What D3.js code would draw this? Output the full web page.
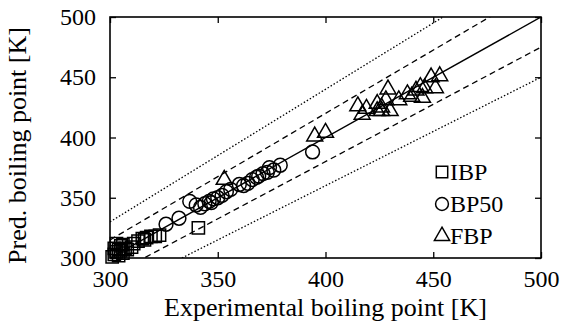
<!DOCTYPE html>
<meta charset="utf-8">
<style>
  body { margin: 0; background: #fff; }
  text { font-family: "Liberation Serif", "Times New Roman", serif; fill: #000; }
</style>
<body>
<script src="https://d3js.org/d3.v7.min.js"></script>
<script>
  // experimental vs predicted boiling point [K]
  var ibp = [[301,301],[302,303],[303,305],[304,302],[305,306],[306,304],[307,308],[305,310],
    [304,307],[302,308],[306,311],[308,307],[310,309],[311,312],[313,314],[315,316],[316,315],
    [317,317],[319,318],[321,318],[323,319],[341,325],[303,312]];
  var bp50 = [[326,328],[332,333],[337,347],[340,344],[342,342],[344,345],[346,347],[348,349],
    [350,350],[352,352],[354,355],[356,357],[360,361],[362,360],[364,362],[366,365],[368,367],
    [369,368],[371,370],[373,371],[374,375],[376,373],[379,377],[394,388],[347,346]];
  var fbp = [[353,365],[395,401],[400,404],[415,426],[417,419],[419,424],[424,428],[426,425],
    [429,440],[428,431],[426,422],[430,422],[424,422],[434,431],[438,436],[440,434],[442,439],
    [444,442],[445,433],[446,441],[449,450],[453,451],[451,441]];
  var ticks = [300, 350, 400, 450, 500];
  var legendNames = ["IBP", "BP50", "FBP"];
  // deviation bands: parity, +-5 %, +-10 %
  var bands = [[1, "none"], [1.05, "6,4"], [0.95, "6,4"], [1.1, "1.5,2"], [0.9, "1.5,2"]];

  var W = 562, H = 321;
  var margin = {top: 17, right: 21, bottom: 63, left: 110};
  var width = W - margin.left - margin.right,
      height = H - margin.top - margin.bottom;

  var x = d3.scaleLinear().domain([300, 500]).range([0, width]);
  var y = d3.scaleLinear().domain([300, 500]).range([height, 0]);

  var svg = d3.select("body").append("svg")
    .attr("width", W).attr("height", H)
    .append("g")
    .attr("transform", "translate(" + margin.left + "," + margin.top + ")");

  svg.append("defs").append("clipPath").attr("id", "clip")
    .append("rect").attr("width", width).attr("height", height);

  var fs = 24, fsTitle = 26;

  // axes with inward ticks on all four sides
  var tl = 6;
  svg.append("g").attr("transform", "translate(0," + height + ")")
    .call(d3.axisBottom(x).tickValues(ticks).tickSizeInner(-tl).tickSizeOuter(0).tickPadding(tl + 6));
  svg.append("g")
    .call(d3.axisLeft(y).tickValues(ticks).tickSizeInner(-tl).tickSizeOuter(0).tickPadding(tl + 8));
  svg.append("g")
    .call(d3.axisTop(x).tickValues(ticks).tickSizeInner(-tl).tickSizeOuter(0).tickFormat(""));
  svg.append("g").attr("transform", "translate(" + width + ",0)")
    .call(d3.axisRight(y).tickValues(ticks).tickSizeInner(-tl).tickSizeOuter(0).tickFormat(""));

  svg.selectAll(".domain").remove();
  svg.selectAll(".tick line").attr("stroke", "#000").attr("stroke-width", 1.3);
  svg.selectAll(".tick text").style("font-size", fs + "px")
    .style("font-family", "'Liberation Serif', serif").attr("fill", "#000");

  svg.append("rect")
    .attr("width", width).attr("height", height)
    .attr("fill", "none").attr("stroke", "#000").attr("stroke-width", 1.6);

  // reference lines
  var lineG = svg.append("g").attr("clip-path", "url(#clip)");
  bands.forEach(function (b) {
    lineG.append("line")
      .attr("x1", x(300)).attr("y1", y(300 * b[0]))
      .attr("x2", x(500)).attr("y2", y(500 * b[0]))
      .attr("stroke", "#000")
      .attr("stroke-width", b[0] === 1 ? 1.4 : 1.3)
      .attr("stroke-dasharray", b[1]);
  });

  // markers
  var sq = d3.symbol().type(d3.symbolSquare).size(150);
  var ci = d3.symbol().type(d3.symbolCircle).size(150);
  var tr = d3.symbol().type(d3.symbolTriangle).size(110);
  var series = [[ibp, sq], [bp50, ci], [fbp, tr]];

  var ptG = svg.append("g");
  series.forEach(function (s) {
    ptG.selectAll(null)
      .data(s[0])
      .enter().append("path")
      .attr("d", s[1])
      .attr("transform", function (d) { return "translate(" + x(d[0]) + "," + y(d[1]) + ")"; })
      .attr("fill", "none")
      .attr("stroke", "#000")
      .attr("stroke-width", 1.5);
  });

  // legend
  var leg = svg.append("g").attr("transform", "translate(" + (width - 107) + "," + (height - 86) + ")");
  var legSyms = [d3.symbol().type(d3.symbolSquare).size(130),
                 d3.symbol().type(d3.symbolCircle).size(130),
                 d3.symbol().type(d3.symbolTriangle).size(100)];
  legendNames.forEach(function (n, i) {
    var g = leg.append("g").attr("transform", "translate(0," + i * 32 + ")");
    g.append("path").attr("d", legSyms[i]).attr("transform", "translate(8,0)")
      .attr("fill", "none").attr("stroke", "#000").attr("stroke-width", 1.5);
    g.append("text").attr("x", 16).attr("dy", "0.35em").style("font-size", fs + "px").text(n);
  });

  // axis titles
  svg.append("text")
    .attr("x", width / 2).attr("y", height + 58)
    .attr("text-anchor", "middle").style("font-size", fsTitle + "px")
    .text("Experimental boiling point [K]");
  svg.append("text")
    .attr("transform", "translate(" + (-84) + "," + (height / 2 + 8) + ") rotate(-90)")
    .attr("text-anchor", "middle").style("font-size", fsTitle + "px")
    .text("Pred. boiling point [K]");
</script>
</body>
